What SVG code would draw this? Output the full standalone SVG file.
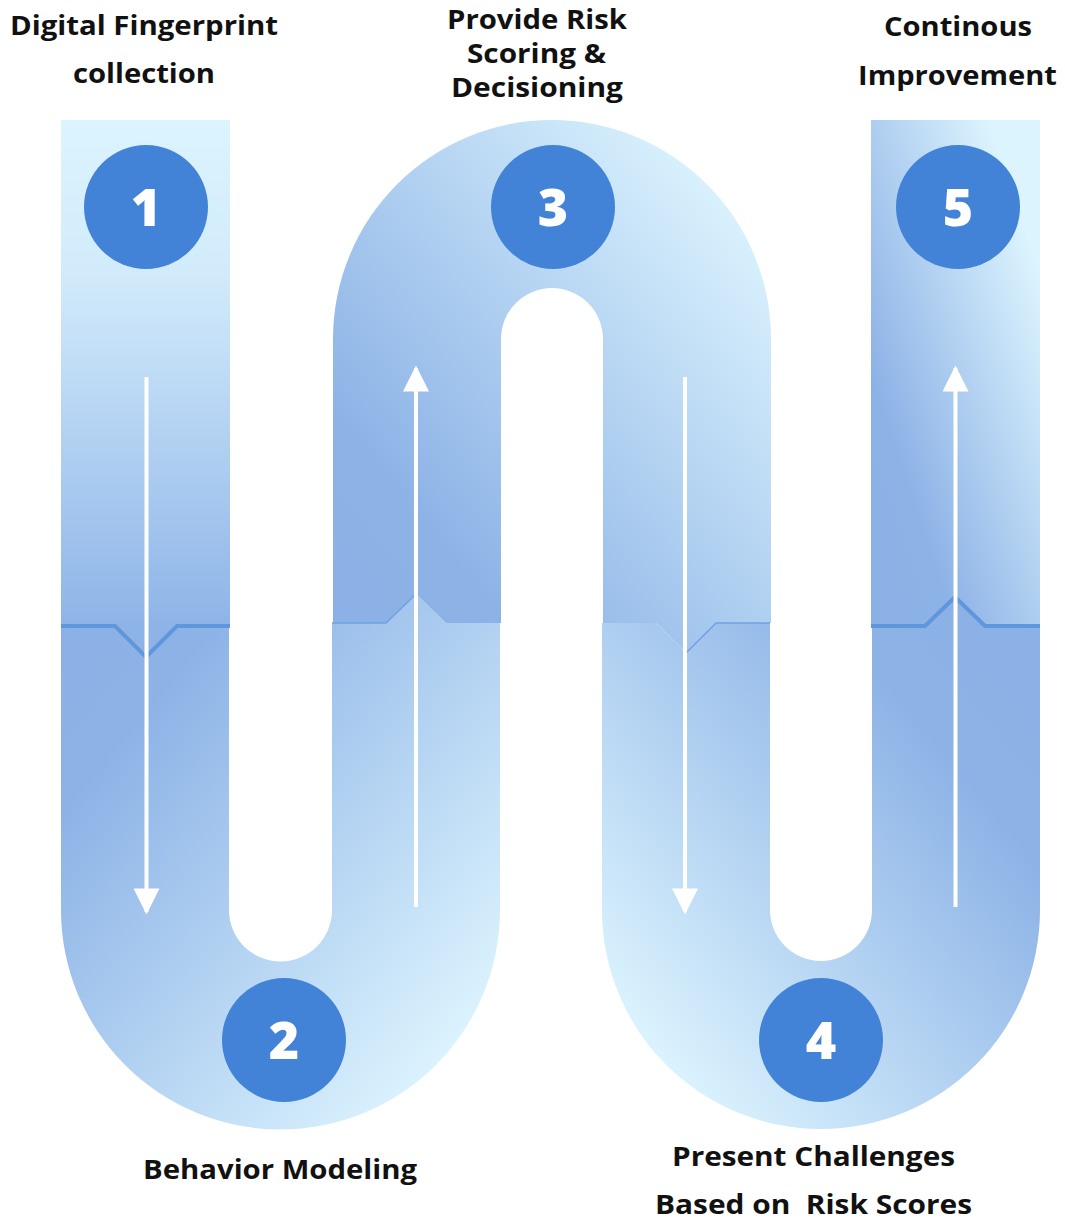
<svg xmlns="http://www.w3.org/2000/svg" width="1065" height="1220" viewBox="0 0 1065 1220">
<defs>
<linearGradient id="gCol1" gradientUnits="userSpaceOnUse" x1="0" y1="120" x2="0" y2="630">
<stop offset="0" stop-color="#dcf4fe"/><stop offset="0.3" stop-color="#d2ebfb"/><stop offset="1" stop-color="#8db3e7"/>
</linearGradient>
<linearGradient id="gCol5" x1="0" y1="1" x2="1" y2="0">
<stop offset="0" stop-color="#8ab0e5"/><stop offset="0.25" stop-color="#8db2e6"/><stop offset="0.85" stop-color="#dcf4fe"/><stop offset="1" stop-color="#dcf4fe"/>
</linearGradient>
<linearGradient id="gArch" x1="0" y1="1" x2="1" y2="0">
<stop offset="0" stop-color="#8ab0e5"/><stop offset="0.22" stop-color="#8cb2e6"/><stop offset="0.9" stop-color="#dcf4fe"/><stop offset="1" stop-color="#dcf4fe"/>
</linearGradient>
<linearGradient id="gU1" x1="0" y1="0" x2="1" y2="1">
<stop offset="0" stop-color="#8ab0e5"/><stop offset="0.2" stop-color="#8cb2e6"/><stop offset="0.88" stop-color="#dcf4fe"/><stop offset="1" stop-color="#dcf4fe"/>
</linearGradient>
<linearGradient id="gU2" x1="1" y1="0" x2="0" y2="1">
<stop offset="0" stop-color="#8ab0e5"/><stop offset="0.25" stop-color="#8cb2e6"/><stop offset="0.88" stop-color="#dcf4fe"/><stop offset="1" stop-color="#dcf4fe"/>
</linearGradient>
<marker id="ah" viewBox="0 0 10 10" refX="9" refY="5" markerWidth="7" markerHeight="6.5" markerUnits="strokeWidth" orient="auto">
<path d="M0,0 L10,5 L0,10 Z" fill="#ffffff"/>
</marker>
</defs>
<style>
.lbl{font-family:"Open Sans","Liberation Sans",sans-serif;font-weight:700;font-size:26px;fill:#111111;text-anchor:middle}
.num{font-family:"Open Sans","Liberation Sans",sans-serif;font-weight:800;font-size:52px;fill:#ffffff;text-anchor:middle}
.circ{fill:#4283d7}
.seam{fill:none;stroke:#5f96dd;stroke-width:4;stroke-linejoin:miter}
.seamThin{fill:none;stroke:#6ea2e2;stroke-width:1.5}
.arrow{fill:none;stroke:#ffffff;stroke-width:4;marker-end:url(#ah)}
</style>

<g id="band">
<path id="u1" fill="url(#gU1)" d="M61,626 L115,626 L146,657 L177,626 L229,626 L229,910 A51,51 0 0 0 332,910 L332,623 L386,623 L416,594 L446,623 L500,623 L500,910 A219.5,219.5 0 0 1 61,910 Z"/>
<path id="arch" fill="url(#gArch)" d="M333,623 L333,339 A219,219 0 0 1 771,339 L771,623 L716,623 L686,653 L656,623 L603,623 L603,339 A51,51 0 0 0 501,339 L501,623 L446,623 L416,594 L386,623 Z"/>
<path id="u2" fill="url(#gU2)" d="M602,623 L656,623 L686,653 L716,623 L770,623 L770,910 A51,51 0 0 0 872,910 L872,626 L925,626 L955,597 L985,626 L1040,626 L1040,910 A219,219 0 0 1 602,910 Z"/>
<path id="col1" fill="url(#gCol1)" d="M61,120 L230,120 L230,626 L177,626 L146,657 L115,626 L61,626 Z"/>
<path id="col5" fill="url(#gCol5)" d="M871,120 L1040,120 L1040,626 L985,626 L955,597 L925,626 L871,626 Z"/>
<path class="seam" d="M61,626 L115,626 L146,657 L177,626 L230,626"/>
<path class="seam" d="M871,626 L925,626 L955,597 L985,626 L1040,626"/>
<path class="seamThin" d="M332,623 L386,623 L416,594"/>
<path class="seamThin" d="M686,653 L716,623 L770,623"/>
</g>

<g id="connectors">
<line class="arrow" x1="146.5" y1="377" x2="146.5" y2="912"/>
<line class="arrow" x1="416" y1="907" x2="416" y2="368"/>
<line class="arrow" x1="685" y1="377" x2="685" y2="912"/>
<line class="arrow" x1="955.5" y1="907" x2="955.5" y2="368"/>
</g>

<g id="node1">
<circle class="circ" cx="146" cy="207" r="62"/>
<text class="num" x="146" y="226">1</text>
<text class="lbl" x="144" y="35" textLength="268" lengthAdjust="spacingAndGlyphs">Digital Fingerprint</text>
<text class="lbl" x="144" y="83" textLength="142" lengthAdjust="spacingAndGlyphs">collection</text>
</g>
<g id="node2">
<circle class="circ" cx="284" cy="1040" r="62"/>
<text class="num" x="284" y="1059">2</text>
<text class="lbl" x="280" y="1179" textLength="274" lengthAdjust="spacingAndGlyphs">Behavior Modeling</text>
</g>
<g id="node3">
<circle class="circ" cx="553" cy="207" r="62"/>
<text class="num" x="553" y="226">3</text>
<text class="lbl" x="537" y="29" textLength="180" lengthAdjust="spacingAndGlyphs">Provide Risk</text>
<text class="lbl" x="536.5" y="63" textLength="139" lengthAdjust="spacingAndGlyphs">Scoring &amp;</text>
<text class="lbl" x="537" y="97" textLength="172" lengthAdjust="spacingAndGlyphs">Decisioning</text>
</g>
<g id="node4">
<circle class="circ" cx="821" cy="1040" r="62"/>
<text class="num" x="821" y="1059">4</text>
<text class="lbl" x="813.5" y="1166" textLength="283" lengthAdjust="spacingAndGlyphs">Present Challenges</text>
<text class="lbl" x="813.5" y="1214" textLength="317" lengthAdjust="spacingAndGlyphs" xml:space="preserve">Based on  Risk Scores</text>
</g>
<g id="node5">
<circle class="circ" cx="958" cy="207" r="62"/>
<text class="num" x="958" y="226">5</text>
<text class="lbl" x="958" y="36" textLength="148" lengthAdjust="spacingAndGlyphs">Continous</text>
<text class="lbl" x="957.5" y="85" textLength="199" lengthAdjust="spacingAndGlyphs">Improvement</text>
</g>
</svg>
